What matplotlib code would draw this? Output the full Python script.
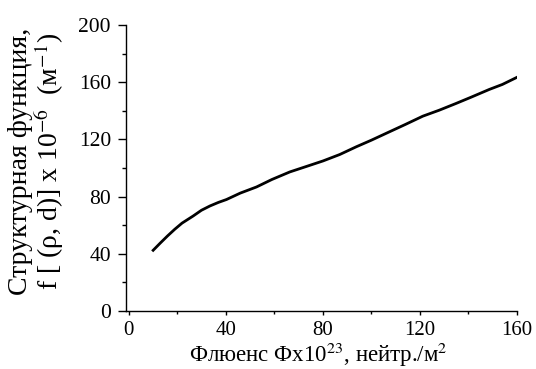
import matplotlib
matplotlib.use('Agg')
import matplotlib.pyplot as plt
from matplotlib.ticker import MultipleLocator

plt.rcParams['font.family'] = ['Liberation Serif', 'DejaVu Serif']
plt.rcParams['mathtext.fontset'] = 'stix'

# Данные
fluence = [10.1, 13, 16, 19, 22, 26.6, 30, 33.5, 37, 40.3, 46, 52.7, 59, 66.4,
           73, 80.1, 87, 93.8, 100, 107.5, 114, 121.2, 128, 134.9, 141, 148.6, 154, 159.9]
struct_f = [42.5, 47.5, 52.5, 57.2, 61.5, 66.5, 70.5, 73.5, 76.0, 78.0, 82.5, 86.8, 92.0, 97.3,
            101.0, 105.0, 109.5, 114.9, 119.5, 125.4, 130.5, 136.3, 140.5, 145.2, 149.5, 155.0, 158.5, 163.4]

fig = plt.figure(figsize=(5.36, 3.69), dpi=100)
ax = fig.add_axes([0.235, 0.157, 0.7295, 0.775])

ax.plot(fluence, struct_f, color='black', lw=2.0)

ax.set_xlim(-1.1, 160)
ax.set_ylim(0, 200)
ax.xaxis.set_major_locator(MultipleLocator(40))
ax.xaxis.set_minor_locator(MultipleLocator(20))
ax.yaxis.set_major_locator(MultipleLocator(40))
ax.yaxis.set_minor_locator(MultipleLocator(20))

ax.spines['top'].set_visible(False)
ax.spines['right'].set_visible(False)
ax.spines['left'].set_linewidth(1.0)
ax.spines['bottom'].set_linewidth(1.0)
ax.tick_params(which='both', direction='out', width=1.0, labelsize=15.5)
# Y: длинные риски, X: короткие
ax.tick_params(axis='y', which='major', length=5.8, pad=5)
ax.tick_params(axis='y', which='minor', length=2.9)
ax.tick_params(axis='x', which='major', length=2.9, pad=4.5, labelsize=15)
ax.tick_params(axis='x', which='minor', length=1.8)

# подпись оси X
fig.text(318 / 536, 0.018, 'Флюенс Фх10$^{23}$, нейтр./м$^{2}$',
         ha='center', va='baseline', fontsize=16.5)

# подпись оси Y (две строки)
fig.text(37 / 536, 0.563, 'Структурная функция,\nf [ (ρ, d)] x 10$^{-6}$  (м$^{-1}$)',
         rotation=90, ha='center', va='center', multialignment='center',
         fontsize=20, linespacing=1.0)

fig.savefig('out.png', dpi=100)
